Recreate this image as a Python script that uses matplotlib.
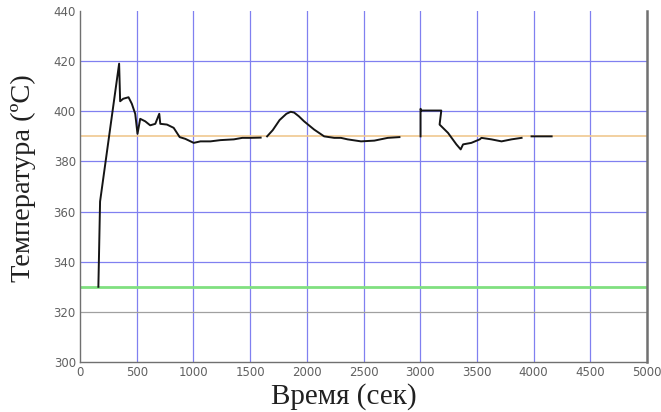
import numpy as np
import matplotlib
matplotlib.use("Agg")
import matplotlib.pyplot as plt

# Data (time in s, temperature in °C); NaN = gap
time_s = [162, 177, 345, 354, 381, 428, 457, 487, 507, 531, 575, 619, 664, 699, 708,
          767, 826, 879, 929, 1003, 1062, 1150, 1239, 1357, 1431, 1504, 1593, np.nan,
          1650, 1700, 1760, 1820, 1858, 1888, 1930, 1976, 2065, 2153, 2242, 2301, 2360,
          2478, 2596, 2714, 2817, np.nan,
          3003, 3003, 3010, 3186, 3171, 3245, 3319, 3357, 3378, 3451, 3525, 3540,
          3628, 3717, 3805, 3894, np.nan, 3982, 4159]
temp_c = [330, 364, 419, 404, 405, 405.6, 403, 399, 391, 397, 396, 394.4, 395, 399, 395,
          394.7, 393.4, 389.7, 389, 387.4, 388, 388, 388.5, 388.8, 389.4, 389.4, 389.5, np.nan,
          390, 392.5, 396.5, 399, 399.8, 399.5, 398, 396, 392.7, 390, 389.4, 389.4, 388.8,
          388, 388.3, 389.4, 389.7, np.nan,
          390, 401, 400.3, 400.3, 394.7, 391.4, 386.8, 384.8, 386.8, 387.4, 388.8, 389.4,
          388.8, 388, 388.8, 389.4, np.nan, 390, 390]

setpoint_high = 390
setpoint_low = 330
gray_level = 320
x_ticks = [0, 500, 1000, 1500, 2000, 2500, 3000, 3500, 4000, 4500, 5000]
y_ticks = [300, 320, 340, 360, 380, 400, 420, 440]

fig = plt.figure(figsize=(6.61, 4.12), dpi=100)
ax = fig.add_axes([80/661, 1-362/412, (647-80)/661, (362-11)/412])

ax.set_xlim(0, 5000)
ax.set_ylim(300, 440)

grid_col = '#8080f0'
for xv in x_ticks[1:-1]:
    ax.axvline(xv, color=grid_col, lw=0.9, zorder=1)
for yv in [340, 360, 380, 400, 420]:
    ax.axhline(yv, color=grid_col, lw=0.9, zorder=1)
ax.axhline(gray_level, color='#a0a0a0', lw=0.9, zorder=1)
ax.axhline(setpoint_high, color='#f0c890', lw=1.2, zorder=2)
ax.axhline(setpoint_low, color='#80e080', lw=2.0, zorder=2)

ax.plot(time_s, temp_c, color='#151515', lw=1.4, zorder=3)

ax.set_xticks(x_ticks)
ax.set_yticks(y_ticks)
ax.tick_params(axis='both', labelsize=8.5, colors='#606060', length=0, pad=3)
for s in ['left', 'bottom']:
    ax.spines[s].set_color('#707070')
    ax.spines[s].set_linewidth(1.0)
ax.spines['right'].set_color('#707070')
ax.spines['right'].set_linewidth(1.8)
ax.spines['top'].set_visible(False)

ax.set_xlabel('Время (сек)', family='Liberation Serif', fontsize=21, color='#202020', va='center')
ax.set_ylabel('Температура (ºС)', family='Liberation Serif', fontsize=20.5, color='#202020', va='center')
ax.xaxis.set_label_coords((344-80)/567, -(397-362)/351)
ax.yaxis.set_label_coords((23-80)/567, (362-178)/351)

fig.savefig('out.png', dpi=100)
